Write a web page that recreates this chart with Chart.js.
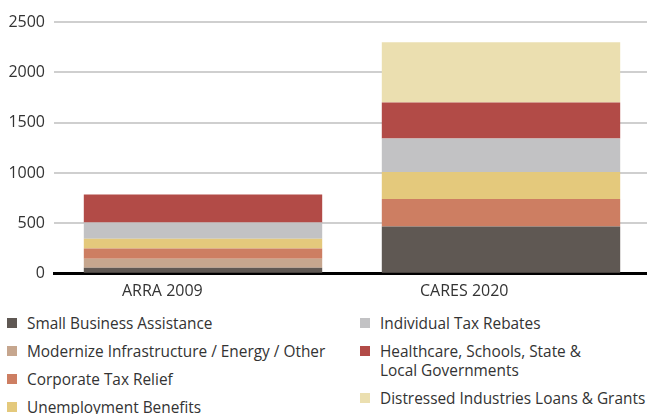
<!DOCTYPE html>
<html>
<head>
<meta charset="utf-8">
<script src="https://cdn.jsdelivr.net/npm/chart.js@4"></script>
<style>
  html, body { margin: 0; padding: 0; background: #fff; overflow: hidden; }
  body { width: 647px; height: 414px; position: relative; font-family: "Open Sans", sans-serif; }
  #chart-wrap { position: absolute; left: 0; top: 0; width: 650px; height: 310px; }
  .legend-col { position: absolute; top: 314px; font-size: 15.4px; color: #333; white-space: nowrap; }
  .legend-item { position: relative; padding-left: 20px; line-height: 19px; margin-bottom: 9px; }
  .legend-item .swatch { position: absolute; left: 0; top: 4px; width: 10px; height: 10px; }
</style>
</head>
<body>
<div id="chart-wrap"><canvas id="stimulus-chart"></canvas></div>
<div class="legend-col" id="legend-left" style="left:7px"></div>
<div class="legend-col" id="legend-right" style="left:360px"></div>
<script>
  const categories = ["ARRA 2009", "CARES 2020"];
  const seriesNames = [
    "Small Business Assistance",
    "Modernize Infrastructure / Energy / Other",
    "Corporate Tax Relief",
    "Unemployment Benefits",
    "Individual Tax Rebates",
    "Healthcare, Schools, State & Local Governments",
    "Distressed Industries Loans & Grants",
  ];
  const smallBusiness = [60, 470];
  const infrastructure = [90, 0];
  const corporateTax = [100, 273];
  const unemployment = [97, 267];
  const individualTax = [163, 333];
  const healthcareStates = [277, 357];
  const distressedIndustries = [0, 600];
  const yTicks = [0, 500, 1000, 1500, 2000, 2500];

  const seriesValues = [
    smallBusiness,
    infrastructure,
    corporateTax,
    unemployment,
    individualTax,
    healthcareStates,
    distressedIndustries,
  ];
  const seriesColors = [
    "#5f5853",
    "#c6a68e",
    "#cd7e62",
    "#e4c97c",
    "#c2c2c4",
    "#b24b47",
    "#ebdfb0",
  ];

  const datasets = seriesNames.map((name, i) => ({
    label: name,
    data: seriesValues[i],
    backgroundColor: seriesColors[i],
    borderWidth: 0,
    barPercentage: 0.8,
    categoryPercentage: 1,
  }));

  const ctx = document.getElementById("stimulus-chart").getContext("2d");
  new Chart(ctx, {
    type: "bar",
    data: { labels: categories, datasets },
    options: {
      responsive: true,
      maintainAspectRatio: false,
      animation: false,
      layout: { padding: { left: 0, top: 22, right: 0, bottom: 1 } },
      plugins: { legend: { display: false }, tooltip: { enabled: false } },
      scales: {
        x: {
          stacked: true,
          // drawn above the bars so the black baseline stays whole
          z: 1,
          grid: { display: false, drawTicks: false },
          border: { display: true, color: "#000", width: 3 },
          ticks: {
            color: "#333",
            font: { family: "Open Sans", size: 16 },
            padding: 8,
            align: "start",
            labelOffset: -81,
          },
        },
        y: {
          stacked: true,
          min: 0,
          max: 2500,
          afterBuildTicks: (axis) => {
            axis.ticks = yTicks.map((v) => ({ value: v }));
          },
          afterFit: (axis) => {
            axis.width = 54;
          },
          border: { display: false },
          grid: {
            drawTicks: false,
            color: "#cfcfcf",
            lineWidth: 2,
          },
          ticks: {
            color: "#333",
            font: { family: "Open Sans", size: 16 },
            padding: 9,
            callback: (v) => String(v),
          },
        },
      },
    },
  });

  // legend: left column gets the first four series, right column the rest
  function legendItem(i) {
    const name = seriesNames[i].replace("State & Local", "State &<br>Local");
    return `<div class="legend-item"><span class="swatch" style="background:${seriesColors[i]}"></span>${name}</div>`;
  }
  document.getElementById("legend-left").innerHTML = [0, 1, 2, 3].map(legendItem).join("");
  document.getElementById("legend-right").innerHTML = [4, 5, 6].map(legendItem).join("");
</script>
</body>
</html>
